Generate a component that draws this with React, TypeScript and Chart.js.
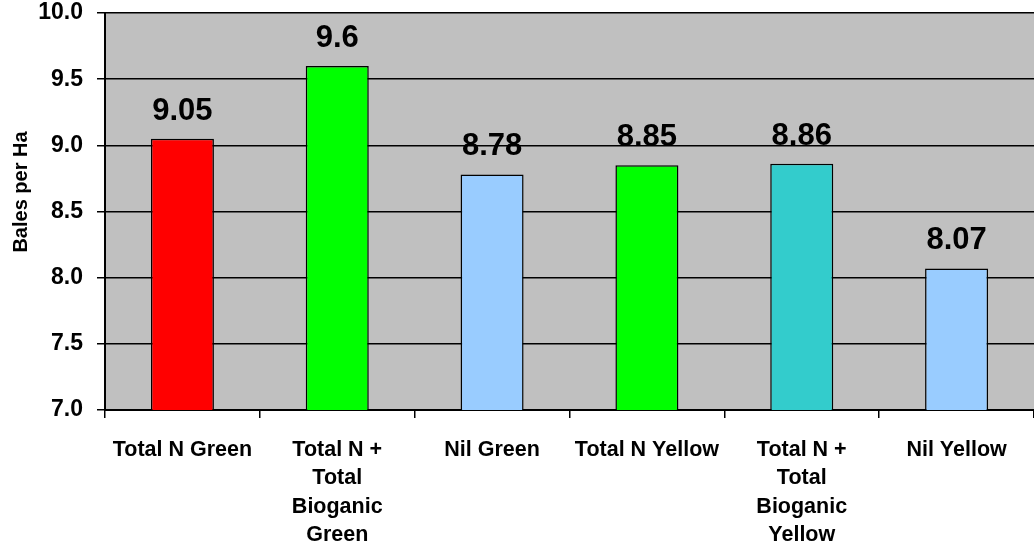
import React, { useEffect, useRef } from "react";
import { Chart, registerables } from "chart.js";

Chart.register(...registerables);

const categories: (string | string[])[] = [
  "Total N Green",
  ["Total N +", "Total", "Bioganic", "Green"],
  "Nil Green",
  "Total N Yellow",
  ["Total N +", "Total", "Bioganic", "Yellow"],
  "Nil Yellow",
];
const values = [9.05, 9.6, 8.78, 8.85, 8.86, 8.07];
const barColors = ["#FF0000", "#00FF00", "#99CCFF", "#00FF00", "#33CCCC", "#99CCFF"];
const yAxisTitle = "Bales per Ha";
const yMin = 7;
const yMax = 10;
const yStep = 0.5;

const FONT = "'Liberation Sans', Arial, sans-serif";

export default function App() {
  const ref = useRef<HTMLCanvasElement | null>(null);

  useEffect(() => {
    if (!ref.current) return;
    const bgPlugin = {
      id: "plotBg",
      beforeDraw(chart: any) {
        const { ctx, chartArea } = chart;
        ctx.save();
        ctx.fillStyle = "#C0C0C0";
        ctx.fillRect(chartArea.left, chartArea.top, chartArea.right - chartArea.left, chartArea.bottom - chartArea.top);
        ctx.restore();
      },
    };
    const labelPlugin = {
      id: "valueLabels",
      afterDatasetsDraw(chart: any) {
        const { ctx } = chart;
        const meta = chart.getDatasetMeta(0);
        ctx.save();
        ctx.fillStyle = "#000000";
        ctx.font = `bold 31px ${FONT}`;
        ctx.textAlign = "center";
        ctx.textBaseline = "alphabetic";
        meta.data.forEach((bar: any, i: number) => {
          ctx.fillText(String(values[i]), bar.x, bar.y - 19);
        });
        // y-axis title
        ctx.font = `bold 20px ${FONT}`;
        ctx.translate(27, 192);
        ctx.rotate(-Math.PI / 2);
        ctx.fillText(yAxisTitle, 0, 0);
        ctx.restore();
      },
    };
    const chart = new Chart(ref.current, {
      type: "bar",
      data: {
        labels: categories,
        datasets: [
          {
            data: values,
            backgroundColor: barColors,
            borderColor: "#000000",
            borderWidth: 1.5,
            barPercentage: 0.407,
            categoryPercentage: 1,
          },
        ],
      },
      options: {
        animation: false,
        responsive: false,
        devicePixelRatio: 1,
        layout: { padding: { top: 13, right: 0, left: 0, bottom: 0 } },
        plugins: {
          legend: { display: false },
          tooltip: { enabled: false },
          title: { display: false },
        },
        scales: {
          x: {
            offset: true,
            grid: {
              offset: true,
              drawOnChartArea: false,
              drawTicks: true,
              tickLength: 8,
              color: "#000000",
              lineWidth: 1.5,
            },
            border: { color: "#000000", width: 2 },
            ticks: {
              autoSkip: false,
              maxRotation: 0,
              minRotation: 0,
              padding: 18,
              color: "#000000",
              font: { family: FONT, size: 21.5, weight: "bold", lineHeight: 1.32 },
            },
            afterFit(scale: any) {
              scale.height = 139;
              scale.paddingLeft = 0;
              scale.paddingRight = 0;
            },
          },
          y: {
            min: yMin,
            max: yMax,
            grid: {
              color: "#000000",
              lineWidth: 1.5,
              tickLength: 8,
              drawTicks: true,
            },
            border: { color: "#000000", width: 2 },
            ticks: {
              stepSize: yStep,
              padding: 14,
              color: "#000000",
              font: { family: FONT, size: 23, weight: "bold" },
              callback: (v: any) => Number(v).toFixed(1),
            },
            afterFit(scale: any) {
              scale.width = 105;
              scale.paddingTop = 0;
              scale.paddingBottom = 0;
            },
          },
        },
      },
      plugins: [bgPlugin, labelPlugin],
    });
    return () => chart.destroy();
  }, []);

  return (
    <div style={{ position: "fixed", left: 0, top: 0, width: 1034, height: 549, background: "#FFFFFF" }}>
      <canvas ref={ref} width={1034} height={549} style={{ width: 1034, height: 549, display: "block" }} />
    </div>
  );
}
